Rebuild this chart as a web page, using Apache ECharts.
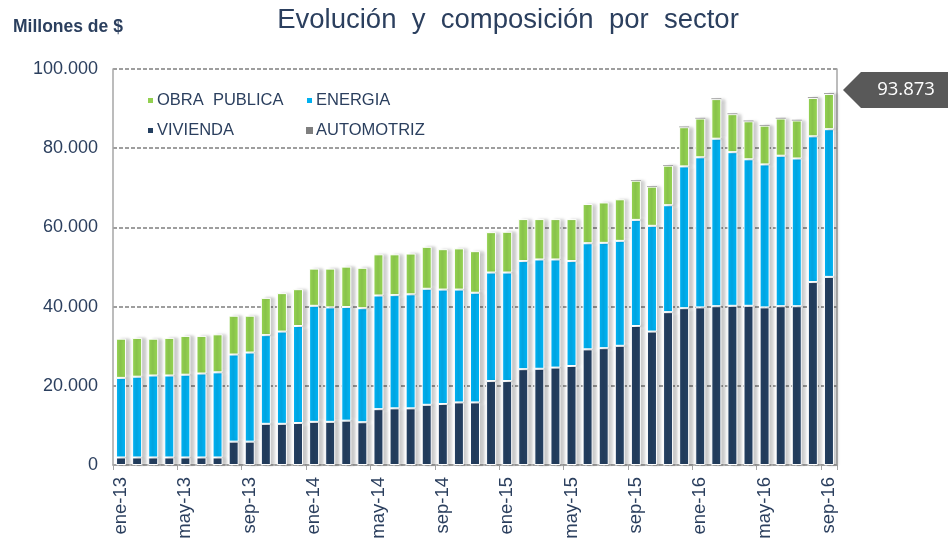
<!DOCTYPE html>
<html>
<head>
<meta charset="utf-8">
<title>Evolución y composición por sector</title>
<script src="https://cdn.jsdelivr.net/npm/echarts@6/dist/echarts.min.js"></script>
<style>
html,body{margin:0;padding:0;background:#fff;}
#chart{width:948px;height:541px;}
</style>
</head>
<body>
<div id="chart"></div>
<script>
//meses
var meses=['ene-13','feb-13','mar-13','abr-13','may-13','jun-13','jul-13','ago-13','sep-13','oct-13','nov-13','dic-13',
	'ene-14','feb-14','mar-14','abr-14','may-14','jun-14','jul-14','ago-14','sep-14','oct-14','nov-14','dic-14',
	'ene-15','feb-15','mar-15','abr-15','may-15','jun-15','jul-15','ago-15','sep-15','oct-15','nov-15','dic-15',
	'ene-16','feb-16','mar-16','abr-16','may-16','jun-16','jul-16','ago-16','sep-16'];
//millones de $
var vivienda=[1900,1900,1900,1900,1900,1900,1900,5900,5900,10400,10400,10600,
	10900,10900,11200,10800,14100,14300,14300,15200,15400,15800,15800,21200,
	21200,24200,24300,24600,25000,29200,29500,30100,35100,33700,38600,39600,
	39800,40100,40200,40200,39800,40100,40100,46200,47500];
var energia=[20100,20400,20700,20700,20900,21200,21500,22000,22500,22400,23300,24500,
	29300,28900,28700,28800,28700,28600,28800,29300,28900,28500,27700,27400,
	27400,27300,27600,27300,26500,26800,26600,26500,26800,26700,27000,35800,
	37900,42300,38800,37000,36100,38000,37300,36800,37300];
var obraPublica=[9900,9800,9300,9500,9800,9500,9600,9800,9300,9400,9700,9300,
	9400,9800,10200,10200,10400,10300,10300,10600,10200,10400,10500,10200,
	10300,10600,10200,10200,10600,9900,10200,10500,9900,9900,10000,9900,
	9800,10000,9600,9600,9800,9400,9600,9700,8900];
var automotriz=[0,0,0,0,0,0,0,0,0,0,0,0,
	0,0,0,0,0,0,0,0,0,0,0,0,
	0,0,0,0,0,0,0,0,150,150,160,160,
	160,170,170,170,170,170,170,173,173];
var yTicks=[0,20000,40000,60000,80000,100000];

var textColor='#2b3f5e';
function fmtMiles(v){
	return String(v).replace(/\B(?=(\d{3})+(?!\d))/g,'.');
}
function serie(nombre,datos,color){
	return {
		name:nombre,
		type:'bar',
		stack:'total',
		barWidth:10,
		data:datos,
		itemStyle:{
			color:color,
			borderColor:'#fff',
			borderWidth:1,
			shadowColor:'rgba(0,0,0,0.22)',
			shadowBlur:3,
			shadowOffsetX:4,
			shadowOffsetY:0
		}
	};
}
function leyenda(datos,left){
	return {
		data:datos,
		orient:'vertical',
		left:left,
		top:87,
		itemWidth:7,
		itemHeight:7,
		itemGap:13,
		icon:'rect',
		textStyle:{fontSize:16.5,color:textColor,padding:[0,0,0,-2]}
	};
}

var chart=echarts.init(document.getElementById('chart'),null,{renderer:'canvas'});
var option={
	animation:false,
	textStyle:{fontFamily:'Liberation Sans, Arial, sans-serif'},
	title:[
		{
			text:'Evolución  y  composición  por  sector',
			left:503,
			textAlign:'center',
			top:1,
			textStyle:{fontSize:27.5,fontWeight:'normal',color:textColor}
		},
		{
			text:'Millones de $',
			left:8,
			top:13,
			textStyle:{fontSize:17.5,fontWeight:'bold',color:textColor}
		}
	],
	legend:[
		leyenda(['OBRA  PUBLICA','VIVIENDA'],141),
		leyenda(['ENERGIA','AUTOMOTRIZ'],300)
	],
	grid:{left:113,right:111,top:69,bottom:76,outerBoundsMode:'none'},
	xAxis:{
		type:'category',
		data:meses,
		axisLine:{lineStyle:{color:'#a6a6a6',width:1.5}},
		axisTick:{show:true,interval:3,length:5,lineStyle:{color:'#a6a6a6'}},
		axisLabel:{interval:3,rotate:90,fontSize:18.5,color:textColor,margin:12}
	},
	yAxis:[
		{
			type:'value',
			min:yTicks[0],
			max:yTicks[yTicks.length-1],
			interval:yTicks[1]-yTicks[0],
			axisLine:{show:true,lineStyle:{color:'#a6a6a6',width:1.5}},
			axisTick:{show:false},
			axisLabel:{fontSize:18,color:textColor,margin:15,formatter:function(v){return fmtMiles(v);}},
			splitLine:{lineStyle:{color:'#7f7f7f',type:[4,2],width:1.5}}
		},
		{
			type:'value',
			min:yTicks[0],
			max:yTicks[yTicks.length-1],
			position:'right',
			axisLine:{show:true,lineStyle:{color:'#a6a6a6',width:1.5}},
			axisTick:{show:false},
			axisLabel:{show:false},
			splitLine:{show:false}
		}
	],
	series:[
		serie('VIVIENDA',vivienda,'#243f60'),
		serie('ENERGIA',energia,'#00b0f0'),
		serie('OBRA  PUBLICA',obraPublica,'#92d050'),
		{
			name:'AUTOMOTRIZ',
			type:'bar',
			stack:'total',
			barWidth:10,
			data:automotriz,
			itemStyle:{color:'#7f7f7f'}
		}
	]
};
chart.setOption(option);

//etiqueta del ultimo total
var n=meses.length-1;
var total=vivienda[n]+energia[n]+obraPublica[n]+automotriz[n];
var pt=chart.convertToPixel({gridIndex:0},[meses[n],total]);
var yc=Math.round(pt[1])-3;
chart.setOption({
	graphic:[
		{
			type:'polygon',
			shape:{points:[[843,yc],[861,yc-18],[948,yc-18],[948,yc+18],[861,yc+18]]},
			style:{fill:'#595959'}
		},
		{
			type:'text',
			x:906,
			y:yc,
			style:{text:fmtMiles(total),fill:'#fff',fontSize:18.5,fontFamily:'Open Sans, DejaVu Sans, sans-serif',align:'center',verticalAlign:'middle'}
		}
	]
});
</script>
</body>
</html>
